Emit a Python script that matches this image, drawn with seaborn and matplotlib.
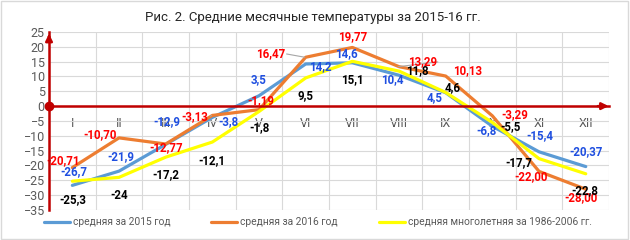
import pandas as pd
import matplotlib.pyplot as plt
import seaborn as sns
from matplotlib.patches import Rectangle

# ============================================================================
# DATA
# ============================================================================
months = ['I', 'II', 'III', 'IV', 'V', 'VI', 'VII', 'VIII', 'IX', 'X', 'XI', 'XII']
series_names = ['средняя за 2015 год', 'средняя за 2016 год',
                'средняя многолетняя за 1986-2006 гг.']

t_2015 = [-26.7, -21.9, -12.9, -3.8, 3.5, 14.2, 14.6, 10.4, 4.5, -6.8, -15.4, -20.37]
t_2016 = [-20.71, -10.70, -12.77, -3.13, -1.19, 16.47, 19.77, 13.29, 10.13, -3.29, -22.00, -28.00]
t_norm = [-25.3, -24, -17.2, -12.1, -1.8, 9.5, 15.1, 11.8, 4.6, -5.5, -17.7, -22.8]

# ============================================================================
# STYLE
# ============================================================================
colors = ['#5B9BD5', '#ED7D31', '#FFFF00']
label_colors = ['#1F4FE0', '#FF0000', '#000000']
axis_red = '#C00000'

# label offsets (dx in categories, dy in degrees)
off_2015 = [(0.04, 4.7), (0.03, 5.0), (0.03, 7.8), (0.34, -1.3), (0, 5.3), (0.31, -1.0),
            (-0.13, 3.0), (-0.15, -1.3), (-0.23, -1.5), (-0.13, -1.6), (0.02, 5.3), (0, 4.9)]
off_2016 = [(-0.2, 2.5), (-0.4, 1.2), (0, -1.1), (-0.37, -0.3), (0.05, 3.2), (-0.74, 1.1),
            (0, 3.5), (0.5, 1.6), (0.46, 1.7), (0.49, 0.3), (-0.17, -1.6), (-0.1, -2.7)]
off_norm = [(0, -6.1), (0, -6.0), (0.01, -5.8), (0, -6.1), (0, -5.3), (-0.01, -6.1),
            (0, -6.0), (0.39, 0), (0.14, 1.8), (0.38, -1.3), (-0.43, -1.2), (-0.02, -5.6)]
leaders = {1: [3, 5, 7]}  # orange labels with gray leader lines

sns.set_theme(style="white")
plt.rcParams['font.family'] = ['Roboto', 'DejaVu Sans']

df = pd.DataFrame({
    'idx': list(range(12)) * 3,
    'temp': t_2015 + t_2016 + t_norm,
    'series': [s for s in series_names for _ in range(12)],
})

fig = plt.figure(figsize=(6.3, 2.4), dpi=100)
ax = fig.add_axes([0.0778, 0.125, 0.889, 0.742])

# grid
ax.set_xlim(-0.5, 11.5)
ax.set_ylim(-35, 25)
ax.set_yticks(range(-35, 26, 5))
ax.set_xticks(range(12))
ax.set_xticklabels(months)
ax.set_xticks([i + 0.5 for i in range(-1, 12)], minor=True)
ax.grid(True, which='minor', axis='x', color='#D9D9D9', lw=0.8)
ax.grid(True, which='major', axis='y', color='#D9D9D9', lw=0.8)
ax.grid(False, which='major', axis='x')
ax.set_axisbelow(True)

# ============================================================================
# LINES
# ============================================================================
sns.lineplot(data=df, x='idx', y='temp', hue='series', palette=colors,
             linewidth=2.3, ax=ax, sort=False)

# ============================================================================
# DATA LABELS
# ============================================================================
all_series = [t_2015, t_2016, t_norm]
all_offs = [off_2015, off_2016, off_norm]
for k, (vals, offs) in enumerate(zip(all_series, all_offs)):
    for i, (v, (dx, dy)) in enumerate(zip(vals, offs)):
        txt = f"{v:.2f}" if k == 1 else f"{v:g}"
        txt = txt.replace('.', ',')
        ax.text(i + dx, v + dy, txt, color=label_colors[k], fontsize=8.3,
                fontweight='bold', ha='center', va='center', zorder=5)
        if i in leaders.get(k, []):
            lx = i + dx + 0.33
            ax.plot([lx, i - 0.02], [v + dy, v], color='#A6A6A6', lw=0.8, zorder=4)

# ============================================================================
# AXES
# ============================================================================
for s in ['top', 'right']:
    ax.spines[s].set_visible(False)
ax.spines['bottom'].set_position(('data', 0))
ax.spines['bottom'].set_color(axis_red)
ax.spines['bottom'].set_linewidth(1.8)
ax.spines['left'].set_color(axis_red)
ax.spines['left'].set_linewidth(1.8)
ax.spines['left'].set_zorder(6)
ax.tick_params(axis='x', which='major', length=0, pad=8, labelsize=9, labelcolor='#595959')
ax.tick_params(axis='x', which='minor', length=6, width=1.5, direction='inout',
               color=axis_red)
ax.tick_params(axis='y', which='major', length=0, pad=3, labelsize=9, labelcolor='#595959')
ax.set_xlabel('')
ax.set_ylabel('')

ax.annotate('', xy=(11.55, 0), xytext=(11.2, 0),
            arrowprops=dict(arrowstyle='-|>', color=axis_red, lw=1.8,
                            mutation_scale=10), annotation_clip=False)
ax.annotate('', xy=(-0.5, 25.3), xytext=(-0.5, 22),
            arrowprops=dict(arrowstyle='-|>', color=axis_red, lw=1.8,
                            mutation_scale=10), annotation_clip=False)
ax.plot([-0.5], [0], 'o', color=axis_red, markersize=6, clip_on=False, zorder=7)

# ============================================================================
# TITLE & LEGEND
# ============================================================================
fig.text(0.497, 0.925, 'Рис. 2. Средние месячные температуры за 2015-16 гг.',
         ha='center', va='center', fontsize=9.5, color='#262626')

sns.move_legend(ax, 'center', bbox_to_anchor=(0.48, -0.07), ncol=3, frameon=False,
                title=None, fontsize=7.4, handlelength=2.5, columnspacing=4.0,
                handletextpad=0.3, labelcolor='#595959')

fig.patches.append(Rectangle((0.002, 0.004), 0.995, 0.99, transform=fig.transFigure,
                             fill=False, edgecolor='#D9D9D9', lw=1))

# ============================================================================
# SAVE
# ============================================================================
plt.savefig('out.png', dpi=100)
